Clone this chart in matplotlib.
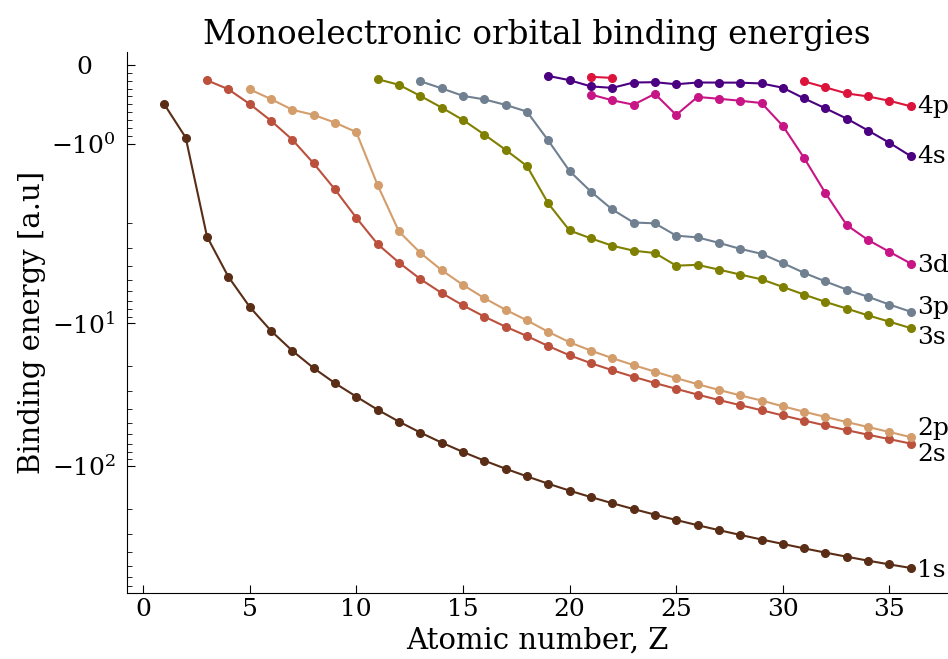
import numpy as np
import matplotlib
matplotlib.use("Agg")
import matplotlib.pyplot as plt
from matplotlib.ticker import FixedLocator

plt.rcParams["font.family"] = "DejaVu Serif"
plt.rcParams["mathtext.fontset"] = "dejavuserif"

# Orbital energies (Hartree) per atomic number
z_1s = list(range(1, 37))
e_1s = [-0.5, -0.918, -2.478, -4.733, -7.695, -11.326, -15.629, -20.669, -26.383,
        -32.772, -40.479, -49.032, -58.501, -68.812, -79.970, -92.004, -104.884,
        -118.610, -133.533, -149.364, -165.7, -182.9, -201.0, -220.0, -239.9,
        -260.7, -282.4, -305.0, -328.5, -352.9, -379.0, -406.0, -433.8, -462.3,
        -491.0, -520.2]

z_2s = list(range(3, 37))
e_2s = [-0.196, -0.309, -0.495, -0.706, -0.945, -1.244, -1.573, -1.930, -2.797,
        -3.768, -4.911, -6.157, -7.511, -9.004, -10.607, -12.322, -14.490, -16.823,
        -19.1, -21.4, -23.8, -26.3, -28.9, -31.7, -34.6, -37.6, -40.8, -44.4,
        -48.2, -52.2, -56.3, -60.6, -65.1, -69.9]

z_2p = list(range(5, 37))
e_2p = [-0.310, -0.433, -0.568, -0.632, -0.730, -0.850, -1.518, -2.282, -3.218,
        -4.256, -5.401, -6.682, -8.072, -9.571, -11.518, -13.629, -15.6, -17.6,
        -19.7, -21.9, -24.3, -26.8, -29.4, -32.1, -34.9, -38.3, -41.8, -45.5,
        -49.4, -53.5, -58.0, -63.0]

z_3s = list(range(11, 37))
e_3s = [-0.182, -0.253, -0.393, -0.540, -0.696, -0.880, -1.073, -1.277, -1.749,
        -2.245, -2.55, -2.87, -3.11, -3.23, -3.96, -3.91, -4.22, -4.57, -4.94,
        -5.58, -6.32, -7.11, -7.92, -8.84, -9.78, -10.85]

z_3p = list(range(13, 37))
e_3p = [-0.208, -0.297, -0.392, -0.437, -0.506, -0.591, -0.955, -1.341, -1.60,
        -1.825, -1.99, -2.00, -2.44, -2.51, -2.74, -3.02, -3.27, -3.80, -4.45,
        -5.11, -5.83, -6.55, -7.42, -8.33]

z_3d = list(range(21, 37))
e_3d = [-0.376, -0.448, -0.504, -0.367, -0.633, -0.406, -0.429, -0.454, -0.483,
        -0.771, -1.177, -1.62, -2.06, -2.62, -3.17, -3.83]

z_4s = list(range(19, 37))
e_4s = [-0.141, -0.195, -0.273, -0.292, -0.224, -0.220, -0.246, -0.224, -0.225,
        -0.226, -0.236, -0.290, -0.425, -0.550, -0.680, -0.830, -0.985, -1.153]

z_4p = list(range(21, 37))
e_4p = [-0.152, -0.166, None, None, None, None, None, None, None, None,
        -0.210, -0.286, -0.362, -0.400, -0.455, -0.524]

orbitals = ["1s", "2s", "2p", "3s", "3p", "3d", "4s", "4p"]
zs = [z_1s, z_2s, z_2p, z_3s, z_3p, z_3d, z_4s, z_4p]
energies = [e_1s, e_2s, e_2p, e_3s, e_3p, e_3d, e_4s, e_4p]
colors = ["#5a2d16", "#bb513d", "#d49d6c", "#808000", "#708090", "#c71585",
          "#4b0082", "#dc143c"]
# vertical nudges (points) for end labels that would collide
label_dy = [-1.5, -8, 6, -6.5, 3, -1.5, -0.5, 0]

fig = plt.figure(figsize=(9.48, 6.59), dpi=100)
ax = fig.add_axes([0.134, 0.1, 0.865, 0.821])

for name, z, e, c, dy in zip(orbitals, zs, energies, colors, label_dy):
    e = np.array([np.nan if v is None else v for v in e], dtype=float)
    ax.plot(z, e, "-o", color=c, lw=1.5, ms=5.5)
    ax.annotate(name, (z[-1], e[-1]), xytext=(4.5, dy), textcoords="offset points",
                va="center", ha="left", fontsize=18)

ax.set_yscale("symlog", linthresh=2)
ax.set_xlim(-0.75, 37.7)
ax.set_ylim(-780, 0.16)
ax.yaxis.set_minor_locator(FixedLocator(
    [-0.1 * k for k in range(1, 10)] + [-k for k in range(2, 10)]
    + [-10 * k for k in range(2, 10)] + [-100 * k for k in range(2, 8)]))

ax.spines["top"].set_visible(False)
ax.spines["right"].set_visible(False)
ax.tick_params(which="both", direction="in", labelsize=18)
ax.tick_params(which="major", length=6)
ax.tick_params(which="minor", length=3.5)
ax.tick_params(axis="y", which="major", pad=31)
plt.setp(ax.get_yticklabels(), ha="center")

ax.set_xlabel("Atomic number, Z", fontsize=21)
ax.set_ylabel("Binding energy [a.u]", fontsize=21)
ax.set_title("Monoelectronic orbital binding energies", fontsize=23.5)

fig.savefig("out.png", dpi=100)
